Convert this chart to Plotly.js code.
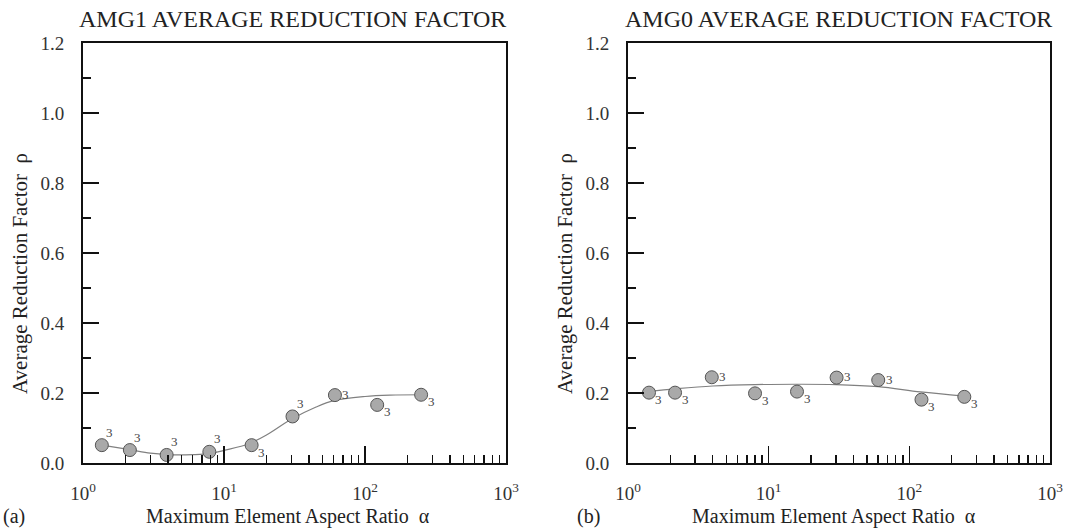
<!DOCTYPE html>
<html>
<head>
<meta charset="utf-8">
<script src="https://cdn.plot.ly/plotly-3.0.1.min.js"></script>
<style>html,body{margin:0;padding:0;background:#fff;}#chart{width:1074px;height:528px;}</style>
</head>
<body>
<div id="chart"></div>
<script>
// ---- data ----
const amg1X = [1.36, 2.15, 3.92, 7.87, 15.7, 30.6, 61.2, 122, 250];
const amg1Y = [0.051, 0.037, 0.023, 0.032, 0.051, 0.133, 0.194, 0.166, 0.195];
const amg1Lbl = ['3','3','3','3','3','3','3','3','3'];
const amg1FitX = [1.36, 2.15, 3, 4, 6, 8, 10, 15, 20, 30, 45, 60, 100, 150, 250];
const amg1FitY = [0.051, 0.038, 0.028, 0.024, 0.024, 0.027, 0.036, 0.055, 0.08, 0.125, 0.16, 0.178, 0.19, 0.194, 0.195];

const amg0X = [1.41, 2.16, 3.94, 8.0, 15.9, 30.4, 60.1, 122, 246];
const amg0Y = [0.201, 0.201, 0.245, 0.199, 0.204, 0.244, 0.237, 0.181, 0.189];
const amg0Lbl = ['3','3','3','3','3','3','3','3','3'];
const amg0FitX = [1.41, 2.16, 4, 8, 16, 30, 60, 120, 246];
const amg0FitY = [0.205, 0.212, 0.220, 0.224, 0.225, 0.224, 0.218, 0.203, 0.191];

const xTickVals = [1, 10, 100, 1000];
const xTickText = ['10<sup>0</sup>', '10<sup>1</sup>', '10<sup>2</sup>', '10<sup>3</sup>'];
const xMinorVals = [2,3,4,5,6,7,8,9,20,30,40,50,60,70,80,90,200,300,400,500,600,700,800,900];
const yTickVals = [0, 0.2, 0.4, 0.6, 0.8, 1.0, 1.2];
const yTickText = ['0.0', '0.2', '0.4', '0.6', '0.8', '1.0', '1.2'];

// ---- styles ----
const SERIF = 'Liberation Serif, Times New Roman, serif';
const amg1Pos = ['up','up','up','up','down','up','right','down','down'];
const amg0Pos = ['down','down','right','down','down','right','right','down','down'];
const SHIFT = {up: [8, 13], down: [10, -7], right: [11, 1]};

const markerStyle = {size: 13, color: '#a9a9a9', line: {color: '#555', width: 1}};
const lineStyle = {color: '#808080', width: 1.2, shape: 'spline', smoothing: 1};
const lblFont = {family: SERIF, size: 13, color: '#444'};

const traces = [
  {x: amg1FitX, y: amg1FitY, xaxis: 'x', yaxis: 'y', mode: 'lines', line: lineStyle, hoverinfo: 'skip'},
  {x: amg1X, y: amg1Y, xaxis: 'x', yaxis: 'y', mode: 'markers', marker: markerStyle},
  {x: amg0FitX, y: amg0FitY, xaxis: 'x2', yaxis: 'y2', mode: 'lines', line: lineStyle, hoverinfo: 'skip'},
  {x: amg0X, y: amg0Y, xaxis: 'x2', yaxis: 'y2', mode: 'markers', marker: markerStyle}
];

function xAxis(domain, anchor) {
  return {
    domain: domain, anchor: anchor, type: 'log', range: [0, 3],
    tickmode: 'array', tickvals: xTickVals, ticktext: xTickText,
    ticks: 'inside', ticklen: 17, tickwidth: 1.5, tickcolor: '#111',
    minor: {tickmode: 'array', tickvals: xMinorVals, ticks: 'inside', ticklen: 8, tickwidth: 1.5, tickcolor: '#111', showgrid: false},
    showline: true, linewidth: 2, linecolor: '#111', mirror: true,
    showgrid: false, zeroline: false,
    tickfont: {family: SERIF, size: 19, color: '#333'}, ticklabelstandoff: 12,
    automargin: false
  };
}
function yAxis(domain, anchor) {
  return {
    domain: domain, anchor: anchor, range: [0, 1.2],
    tickmode: 'array', tickvals: yTickVals, ticktext: yTickText,
    ticks: 'inside', ticklen: 16, tickwidth: 1.5, tickcolor: '#111',
    minor: {dtick: 0.1, ticks: 'inside', ticklen: 8, tickwidth: 1.5, tickcolor: '#111', showgrid: false},
    showline: true, linewidth: 2, linecolor: '#111', mirror: true,
    showgrid: false, zeroline: false,
    tickfont: {family: SERIF, size: 19, color: '#333'}, ticklabelstandoff: 13,
    automargin: false
  };
}

const W = 1074, H = 528;
const px = v => v / W, py = v => 1 - v / H;
const yDom = [py(463), py(43)];

const annFont = (s) => ({family: SERIF, size: s, color: '#222'});
const annotations = [
  {text: 'AMG1 AVERAGE REDUCTION FACTOR', x: px(77), y: py(19), xref: 'paper', yref: 'paper', xanchor: 'left', yanchor: 'middle', showarrow: false, font: annFont(24)},
  {text: 'AMG0 AVERAGE REDUCTION FACTOR', x: px(623), y: py(19), xref: 'paper', yref: 'paper', xanchor: 'left', yanchor: 'middle', showarrow: false, font: annFont(24)},
  {text: 'Average Reduction Factor  ρ', x: px(20), y: py(274), xref: 'paper', yref: 'paper', xanchor: 'center', yanchor: 'middle', textangle: -90, showarrow: false, font: annFont(21)},
  {text: 'Average Reduction Factor  ρ', x: px(565), y: py(274), xref: 'paper', yref: 'paper', xanchor: 'center', yanchor: 'middle', textangle: -90, showarrow: false, font: annFont(21)},
  {text: 'Maximum Element Aspect Ratio  α', x: px(288), y: py(516), xref: 'paper', yref: 'paper', xanchor: 'center', yanchor: 'middle', showarrow: false, font: annFont(20)},
  {text: 'Maximum Element Aspect Ratio  α', x: px(834), y: py(516), xref: 'paper', yref: 'paper', xanchor: 'center', yanchor: 'middle', showarrow: false, font: annFont(20)},
  {text: '(a)', x: px(1), y: py(516), xref: 'paper', yref: 'paper', xanchor: 'left', yanchor: 'middle', showarrow: false, font: annFont(20)},
  {text: '(b)', x: px(575), y: py(516), xref: 'paper', yref: 'paper', xanchor: 'left', yanchor: 'middle', showarrow: false, font: annFont(20)}
];

function pointLabels(xs, ys, lbls, pos, xr, yr) {
  return xs.map((xv, i) => ({
    text: lbls[i], x: Math.log10(xv), y: ys[i], xref: xr, yref: yr,
    xanchor: 'center', yanchor: 'middle', showarrow: false,
    xshift: SHIFT[pos[i]][0], yshift: SHIFT[pos[i]][1], font: lblFont
  }));
}
annotations.push(...pointLabels(amg1X, amg1Y, amg1Lbl, amg1Pos, 'x', 'y'));
annotations.push(...pointLabels(amg0X, amg0Y, amg0Lbl, amg0Pos, 'x2', 'y2'));

const layout = {
  width: W, height: H,
  margin: {l: 0, r: 0, t: 0, b: 0, pad: 0},
  paper_bgcolor: '#fff', plot_bgcolor: '#fff',
  showlegend: false,
  xaxis: xAxis([px(83), px(506)], 'y'),
  yaxis: yAxis(yDom, 'x'),
  xaxis2: xAxis([px(628), px(1050)], 'y2'),
  yaxis2: yAxis(yDom, 'x2'),
  annotations: annotations
};

Plotly.newPlot('chart', traces, layout, {displayModeBar: false, staticPlot: true});
</script>
</body>
</html>
